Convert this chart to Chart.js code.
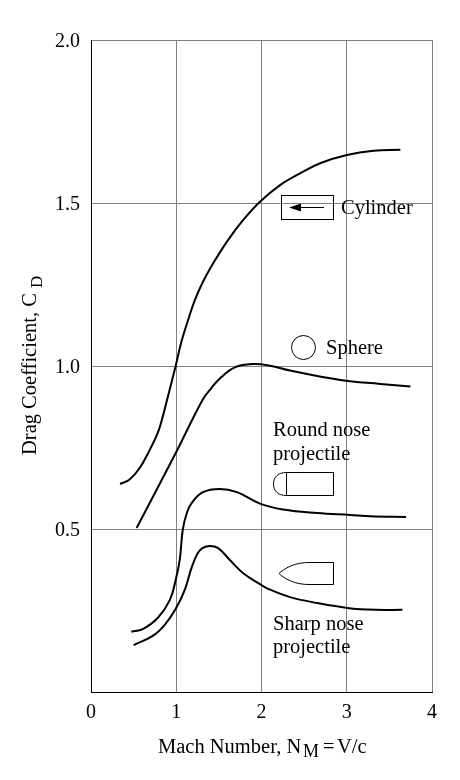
<!DOCTYPE html>
<html>
<head>
<title>Drag coefficient vs Mach number</title>
<script src="https://cdn.jsdelivr.net/npm/chart.js"></script>
<style>
  html, body { margin: 0; padding: 0; background: #fff; }
  canvas { display: block; }
</style>
</head>
<body>
<canvas id="dragChart" width="460" height="780"></canvas>
<script>
// values
const xTicks = [0, 1, 2, 3, 4];
const yTicks = [0.5, 1.0, 1.5, 2.0];

const cylinderX = [0.341, 0.453, 0.571, 0.688, 0.782, 0.841, 0.892, 0.991, 1.061, 1.139, 1.218, 1.315, 1.433, 1.609, 1.786, 1.982, 2.218, 2.453, 2.688, 3.002, 3.315, 3.629];
const cylinderY = [0.638, 0.652, 0.687, 0.742, 0.794, 0.844, 0.896, 0.998, 1.075, 1.141, 1.202, 1.259, 1.315, 1.387, 1.448, 1.504, 1.555, 1.591, 1.622, 1.647, 1.660, 1.663];

const sphereX = [0.535, 0.994, 1.308, 1.414, 1.512, 1.688, 1.904, 2.100, 2.335, 2.924, 3.394, 3.747];
const sphereY = [0.503, 0.733, 0.896, 0.933, 0.962, 0.996, 1.006, 1.001, 0.986, 0.957, 0.945, 0.937];

const roundX = [0.473, 0.606, 0.782, 0.924, 0.994, 1.041, 1.076, 1.124, 1.182, 1.312, 1.512, 1.712, 1.982, 2.253, 2.653, 3.041, 3.276, 3.696];
const roundY = [0.185, 0.193, 0.227, 0.282, 0.344, 0.405, 0.497, 0.549, 0.580, 0.613, 0.623, 0.613, 0.578, 0.560, 0.549, 0.543, 0.539, 0.537];

const sharpX = [0.500, 0.724, 0.865, 0.994, 1.100, 1.182, 1.253, 1.312, 1.394, 1.488, 1.629, 1.782, 1.982, 2.065, 2.335, 2.653, 3.006, 3.335, 3.653];
const sharpY = [0.144, 0.172, 0.206, 0.255, 0.313, 0.383, 0.426, 0.442, 0.448, 0.442, 0.405, 0.365, 0.331, 0.318, 0.291, 0.273, 0.258, 0.252, 0.252];

const FONT = '20.5px "Liberation Serif"';
const SUB_FONT = '18px "Liberation Serif"';

function curve(xs, ys) {
  return {
    data: xs.map((x, i) => ({ x: x, y: ys[i] })),
    showLine: true,
    borderColor: '#000',
    borderWidth: 2,
    pointRadius: 0,
    fill: false,
    tension: 0.4
  };
}

// labels and little shape sketches, in pixels of the 460x780 page
const annotations = {
  id: 'annotations',
  afterDraw(chart) {
    const c = chart.ctx;
    c.save();
    c.fillStyle = '#000';
    c.strokeStyle = '#000';

    // y tick labels sit a little under their grid line in the original
    c.font = '20px "Liberation Serif"';
    c.textAlign = 'right';
    c.textBaseline = 'middle';
    yTicks.forEach(v => c.fillText(v.toFixed(1), 80, chart.scales.y.getPixelForValue(v) + 2));

    c.font = FONT;
    c.textAlign = 'left';
    c.textBaseline = 'alphabetic';

    c.fillText('Cylinder', 341, 214);
    c.fillText('Sphere', 326, 354);
    c.fillText('Round nose', 273, 436);
    c.fillText('projectile', 273, 460);
    c.fillText('Sharp nose', 273, 630);
    c.fillText('projectile', 273, 653);

    // x axis title
    c.fillText('Mach Number, N', 158, 753);
    c.fillText('=', 323, 753);
    c.fillText('V/c', 337, 753);
    c.font = SUB_FONT;
    c.fillText('M', 303, 757);

    // y axis title
    c.save();
    c.translate(36, 455);
    c.rotate(-Math.PI / 2);
    c.font = FONT;
    c.fillText('Drag Coefficient, C', 0, 0);
    c.font = '17px "Liberation Serif"';
    c.fillText('D', 167, 6);
    c.restore();

    c.lineWidth = 1;

    // cylinder with arrow
    c.strokeRect(281.5, 195.5, 52, 24);
    c.beginPath();
    c.moveTo(324, 207.5);
    c.lineTo(296, 207.5);
    c.stroke();
    c.beginPath();
    c.moveTo(289, 207.5);
    c.lineTo(301, 203.5);
    c.lineTo(301, 211.5);
    c.closePath();
    c.fill();

    // sphere
    c.beginPath();
    c.arc(303.5, 347.5, 12, 0, Math.PI * 2);
    c.stroke();

    // round nose projectile
    c.strokeRect(286.5, 472.5, 47, 23);
    c.beginPath();
    c.moveTo(286.5, 472.5);
    c.bezierCurveTo(277, 472.5, 273.5, 478, 273.5, 484);
    c.bezierCurveTo(273.5, 490, 277, 495.5, 286.5, 495.5);
    c.stroke();

    // sharp nose projectile
    c.beginPath();
    c.moveTo(309, 562.5);
    c.lineTo(333.5, 562.5);
    c.lineTo(333.5, 584.5);
    c.lineTo(309, 584.5);
    c.bezierCurveTo(296, 584.5, 286, 580, 279, 573.5);
    c.bezierCurveTo(286, 567, 296, 562.5, 309, 562.5);
    c.stroke();

    c.restore();
  }
};

new Chart(document.getElementById('dragChart'), {
  type: 'scatter',
  data: {
    datasets: [
      curve(cylinderX, cylinderY),
      curve(sphereX, sphereY),
      curve(roundX, roundY),
      curve(sharpX, sharpY)
    ]
  },
  options: {
    responsive: false,
    devicePixelRatio: 1,
    animation: false,
    layout: { padding: { top: 40, right: 28, left: 0, bottom: 0 } },
    plugins: { legend: { display: false }, tooltip: { enabled: false } },
    scales: {
      x: {
        type: 'linear',
        min: 0,
        max: 4,
        afterBuildTicks: s => { s.ticks = xTicks.map(v => ({ value: v })); },
        afterFit: s => { s.height = 88; },
        border: { color: '#000', width: 1 },
        grid: { color: '#808080', lineWidth: 1, drawTicks: false },
        ticks: {
          color: '#000',
          font: { family: 'Liberation Serif', size: 20 },
          padding: 9,
          maxRotation: 0,
          callback: v => String(v)
        }
      },
      y: {
        type: 'linear',
        min: 0,
        max: 2,
        afterBuildTicks: s => { s.ticks = [0].concat(yTicks).map(v => ({ value: v })); },
        afterFit: s => { s.width = 91; },
        border: { color: '#000', width: 1 },
        grid: { color: '#808080', lineWidth: 1, drawTicks: false },
        ticks: { display: false }
      }
    }
  },
  plugins: [annotations]
});
</script>
</body>
</html>
